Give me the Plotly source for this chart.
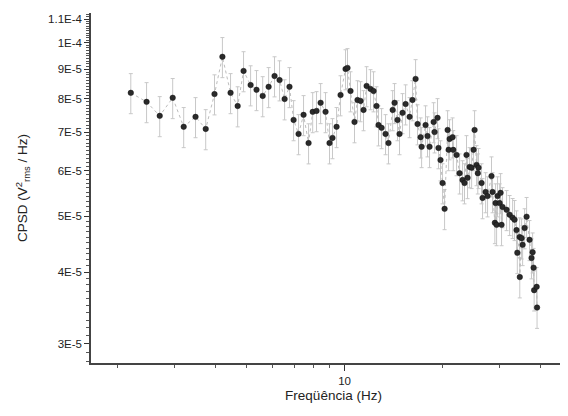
import plotly.graph_objects as go

# Frequency (Hz) and CPSD values (units of 1E-5 V^2/Hz)
freq = [2.20, 2.46, 2.70, 2.96, 3.20, 3.48, 3.74, 3.98, 4.21, 4.46, 4.69, 4.89, 5.14, 5.36,
        5.60, 5.84, 6.09, 6.31, 6.54, 6.77, 6.97, 7.22, 7.48, 7.75, 7.98, 8.20, 8.44, 8.74,
        8.99, 9.18, 9.45, 9.72, 10.07, 10.21, 10.43, 10.73, 10.96, 11.20, 11.44, 11.69, 12.02,
        12.28, 12.54, 12.72, 13.00, 13.37, 13.65, 14.06, 14.25, 14.55, 14.76, 15.08, 15.41,
        15.85, 16.18, 16.54, 16.77, 17.14, 17.26, 17.75, 18.00, 18.26, 18.79, 18.92, 19.32,
        19.45, 19.73, 20.02, 20.31, 20.75, 20.90, 21.04, 21.49, 21.60, 22.11, 22.59, 23.07,
        23.39, 23.72, 23.90, 24.25, 24.60, 24.94, 25.12, 25.47, 25.70, 25.83, 26.39, 26.58,
        27.16, 27.54, 28.32, 28.53, 29.00, 29.15, 29.36, 29.56, 30.00, 30.20, 30.41, 30.62,
        31.51, 32.19, 32.89, 33.34, 33.81, 34.00, 34.56, 34.60, 35.05, 35.30, 35.81, 36.31,
        37.07, 37.60, 37.89, 38.15, 38.30, 38.99, 39.10]
cpsd_e5 = [8.19, 7.90, 7.47, 8.03, 7.15, 7.44, 7.09, 8.15, 9.46, 8.19, 7.77, 8.94, 8.45, 8.29,
           8.09, 8.39, 8.76, 8.62, 7.99, 8.39, 7.35, 6.95, 7.50, 6.70, 7.59, 7.62, 7.87, 7.59,
           6.70, 6.84, 7.15, 8.12, 9.01, 9.05, 8.25, 7.29, 7.96, 7.93, 7.65, 8.42, 8.32,
           8.25, 7.77, 7.20, 7.12, 6.95, 6.70, 7.65, 7.87, 7.35, 6.95, 7.56, 7.83,
           7.44, 7.96, 8.66, 7.23, 6.86, 6.60, 7.20, 6.89, 6.60, 7.29, 7.00, 7.41,
           6.57, 6.26, 5.71, 5.15, 7.06, 6.52, 6.81, 6.86, 6.52, 6.39, 5.94, 5.78,
           5.71, 6.39, 5.83, 6.09, 6.07, 6.52, 7.06, 6.14, 5.94, 6.07, 5.71, 5.38,
           5.51, 5.42, 5.87, 5.51, 4.87, 5.27, 4.83, 5.42, 5.27, 5.49, 4.83, 5.19,
           5.13, 5.03, 4.97, 4.93, 4.73, 4.32, 4.60, 3.92, 4.58, 4.46, 4.77, 4.99,
           4.55, 4.23, 4.33, 4.07, 3.72, 3.77, 3.47]
cpsd = [v * 1e-5 for v in cpsd_e5]

y_tick_vals = [3e-5, 4e-5, 5e-5, 6e-5, 7e-5, 8e-5, 9e-5, 1e-4, 1.1e-4]
y_tick_text = ["3E-5", "4E-5", "5E-5", "6E-5", "7E-5", "8E-5", "9E-5", "1E-4", "1.1E-4"]
y_minor = [k * 1e-6 for k in range(28, 113)]
x_tick_vals = [10]
x_tick_text = ["10"]
x_minor = [2, 3, 4, 5, 6, 7, 8, 9, 20, 30, 40, 50]

fig = go.Figure()
fig.add_trace(go.Scatter(
    x=freq, y=cpsd, mode="lines+markers",
    line=dict(color="#bdbdbd", width=1, dash="dot"),
    marker=dict(color="#2a2a2a", size=5.5, line=dict(color="#111111", width=0.5)),
    error_y=dict(type="percent", value=8, color="#c8c8c8", thickness=1, width=2),
    showlegend=False,
))

axis_font = dict(family="Liberation Sans, Arial, sans-serif", size=11.5, color="#222222")
fig.update_layout(
    width=568, height=416,
    margin=dict(l=83, r=0, t=5, b=61),
    paper_bgcolor="white", plot_bgcolor="white",
    font=dict(family="Liberation Sans, Arial, sans-serif", size=13, color="#222222"),
    xaxis=dict(
        type="log", range=[0.22, 1.712],
        tickmode="array", tickvals=x_tick_vals, ticktext=x_tick_text,
        ticks="outside", ticklen=6, tickcolor="#333333", tickfont=axis_font,
        minor=dict(tickmode="array", tickvals=x_minor, ticks="outside", ticklen=3, tickcolor="#555555"),
        showgrid=False, zeroline=False,
        showline=True, linecolor="#444444", linewidth=1.5,
        title=dict(text="Freqüência (Hz)", font=dict(size=13.5), standoff=5),
    ),
    yaxis=dict(
        type="log", range=[-4.556, -3.948],
        tickmode="array", tickvals=y_tick_vals, ticktext=y_tick_text,
        ticks="outside", ticklen=5, tickcolor="#333333", tickfont=axis_font,
        minor=dict(tickmode="array", tickvals=y_minor, ticks="outside", ticklen=3, tickcolor="#555555"),
        showgrid=False, zeroline=False,
        showline=True, linecolor="#444444", linewidth=1.5,
        title=dict(text="CPSD (V<sup>2</sup><sub>rms</sub> / Hz)", font=dict(size=13.5), standoff=17),
    ),
)

fig.write_html("out.html")
